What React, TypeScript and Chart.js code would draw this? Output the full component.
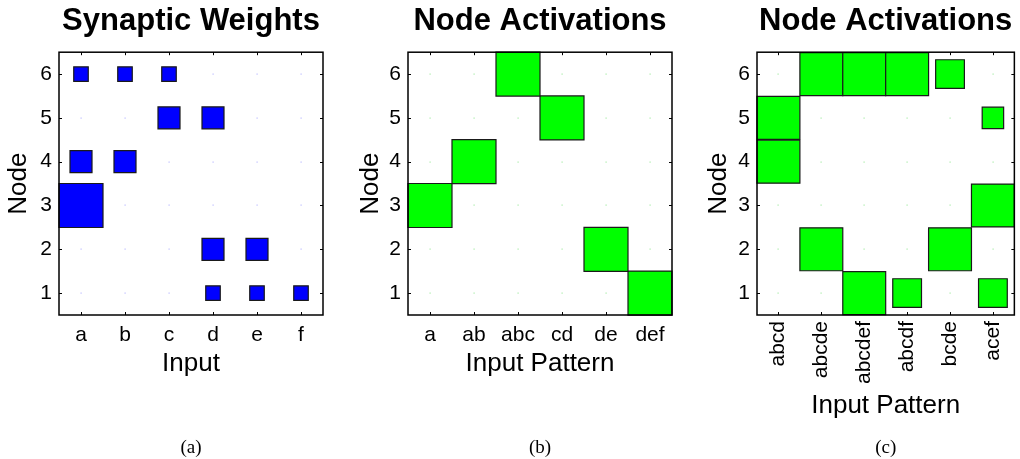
import React, { useEffect, useRef } from 'react';
import { Chart, registerables } from 'chart.js';

Chart.register(...registerables);

// ---------- data ----------
const nodeLabels = ['1', '2', '3', '4', '5', '6'];
const inputLabels = ['a', 'b', 'c', 'd', 'e', 'f'];
const patternLabelsB = ['a', 'ab', 'abc', 'cd', 'de', 'def'];
const patternLabelsC = ['abcd', 'abcde', 'abcdef', 'abcdf', 'bcde', 'acef'];

// rows: node 1..6, columns: inputs a..f
const synapticWeights: number[][] = [
  [0, 0, 0, 0.33, 0.33, 0.33],
  [0, 0, 0, 0.5, 0.5, 0],
  [1, 0, 0, 0, 0, 0],
  [0.5, 0.5, 0, 0, 0, 0],
  [0, 0, 0.5, 0.5, 0, 0],
  [0.33, 0.33, 0.33, 0, 0, 0],
];

// rows: node 1..6, columns: patterns a, ab, abc, cd, de, def
const activationsB: number[][] = [
  [0, 0, 0, 0, 0, 1],
  [0, 0, 0, 0, 1, 0],
  [1, 0, 0, 0, 0, 0],
  [0, 1, 0, 0, 0, 0],
  [0, 0, 0, 1, 0, 0],
  [0, 0, 1, 0, 0, 0],
];

// rows: node 1..6, columns: patterns abcd, abcde, abcdef, abcdf, bcde, acef
const activationsC: number[][] = [
  [0, 0, 1, 0.67, 0, 0.67],
  [0, 1, 0, 0, 1, 0],
  [0, 0, 0, 0, 0, 1],
  [1, 0, 0, 0, 0, 0],
  [1, 0, 0, 0, 0, 0.5],
  [0, 1, 1, 1, 0.67, 0],
];

const SANS = '"Liberation Sans", Arial, Helvetica, sans-serif';
const SERIF = '"Liberation Serif", "Times New Roman", serif';

Chart.defaults.font.family = SANS;
Chart.defaults.color = '#000';

type PanelCfg = {
  title: string;
  xTitle: string;
  xLabels: string[];
  matrix: number[][];
  fill: string;
  dot: string;
  caption: string;
  left: number;
  width: number;
  yAxisW: number;
  padR: number;
  yTitlePad: number;
  xTitlePadB: number;
  xTickPad: number;
  rotate: number;
};

const panels: PanelCfg[] = [
  {
    title: 'Synaptic Weights', xTitle: 'Input', xLabels: inputLabels, matrix: synapticWeights,
    fill: '#0000ff', dot: 'rgba(60,60,255,0.35)', caption: '(a)',
    left: 0, width: 340, yAxisW: 59, padR: 17, yTitlePad: 3.4, xTitlePadB: 56.6, xTickPad: 8, rotate: 0,
  },
  {
    title: 'Node Activations', xTitle: 'Input Pattern', xLabels: patternLabelsB, matrix: activationsB,
    fill: '#00ff00', dot: 'rgba(0,200,0,0.35)', caption: '(b)',
    left: 340, width: 340, yAxisW: 68, padR: 8, yTitlePad: 15.4, xTitlePadB: 56.6, xTickPad: 8, rotate: 0,
  },
  {
    title: 'Node Activations', xTitle: 'Input Pattern', xLabels: patternLabelsC, matrix: activationsC,
    fill: '#00ff00', dot: 'rgba(0,200,0,0.35)', caption: '(c)',
    left: 680, width: 345, yAxisW: 77, padR: 4, yTitlePad: 23.4, xTitlePadB: 14.6, xTickPad: 6, rotate: 90,
  },
];

function toPoints(matrix: number[][]) {
  const pts: { x: number; y: number; s: number }[] = [];
  matrix.forEach((row, r) =>
    row.forEach((v, c) => {
      if (v > 0) pts.push({ x: c + 1, y: r + 1, s: v });
    })
  );
  return pts;
}

const axesPlugin = {
  id: 'hintonAxes',
  beforeDatasetsDraw(chart: any, _args: any, opts: any) {
    const { ctx, chartArea, scales } = chart;
    const xs = scales.x, ys = scales.y;
    ctx.save();
    // grid dots at every tick intersection
    ctx.fillStyle = opts.dot;
    xs.ticks.forEach((tx: any) => {
      ys.ticks.forEach((ty: any) => {
        const px = xs.getPixelForValue(tx.value);
        const py = ys.getPixelForValue(ty.value);
        ctx.fillRect(Math.round(px) - 0.5, Math.round(py) - 0.5, 1.2, 1.2);
      });
    });
    // inward tick marks on all four sides
    ctx.strokeStyle = '#000';
    ctx.lineWidth = 1;
    const L = 3;
    ctx.beginPath();
    xs.ticks.forEach((t: any) => {
      const px = Math.round(xs.getPixelForValue(t.value)) + 0.5;
      ctx.moveTo(px, chartArea.bottom);
      ctx.lineTo(px, chartArea.bottom - L);
      ctx.moveTo(px, chartArea.top);
      ctx.lineTo(px, chartArea.top + L);
    });
    ys.ticks.forEach((t: any) => {
      const py = Math.round(ys.getPixelForValue(t.value)) + 0.5;
      ctx.moveTo(chartArea.left, py);
      ctx.lineTo(chartArea.left + L, py);
      ctx.moveTo(chartArea.right, py);
      ctx.lineTo(chartArea.right - L, py);
    });
    ctx.stroke();
    ctx.restore();
  },
  afterDatasetsDraw(chart: any) {
    const { ctx, chartArea } = chart;
    ctx.save();
    ctx.strokeStyle = '#000';
    ctx.lineWidth = 1.5;
    ctx.strokeRect(chartArea.left, chartArea.top, chartArea.right - chartArea.left, chartArea.bottom - chartArea.top);
    ctx.restore();
  },
};

function Panel({ cfg }: { cfg: PanelCfg }) {
  const ref = useRef<HTMLCanvasElement>(null);
  useEffect(() => {
    if (!ref.current) return;
    const halfSideRadius = (c: any) => {
      const xs = c.chart.scales.x;
      const unit = Math.abs(xs.getPixelForValue(1) - xs.getPixelForValue(0));
      const s = c.raw ? c.raw.s : 0;
      return (s * unit) / 2 / Math.SQRT1_2;
    };
    const chart = new Chart(ref.current, {
      type: 'scatter',
      data: {
        datasets: [
          {
            data: toPoints(cfg.matrix) as any,
            pointStyle: 'rect',
            backgroundColor: cfg.fill,
            borderColor: '#1a1a1a',
            borderWidth: 1.2,
            pointRadius: halfSideRadius as any,
            pointHoverRadius: halfSideRadius as any,
            clip: false as any,
          },
        ],
      },
      options: {
        animation: false,
        responsive: false,
        events: [],
        layout: { padding: { left: 0, right: cfg.padR, top: 0, bottom: 0 } },
        scales: {
          x: {
            type: 'linear',
            min: 0.5,
            max: 6.5,
            afterBuildTicks: (s: any) => {
              s.ticks = cfg.xLabels.map((_, i) => ({ value: i + 1 }));
            },
            afterFit: (s: any) => {
              s.height = 121.2;
            },
            ticks: {
              callback: (v: any) => cfg.xLabels[Math.round(Number(v)) - 1] ?? '',
              font: { size: 21 },
              color: '#000',
              padding: cfg.xTickPad,
              autoSkip: false,
              minRotation: cfg.rotate,
              maxRotation: cfg.rotate,
            },
            grid: { display: false, drawTicks: false },
            border: { display: false },
            title: {
              display: true,
              text: cfg.xTitle,
              font: { size: 26 },
              color: '#000',
              padding: { top: 0, bottom: cfg.xTitlePadB },
            },
          },
          y: {
            type: 'linear',
            min: 0.5,
            max: 6.5,
            afterBuildTicks: (s: any) => {
              s.ticks = nodeLabels.map((_, i) => ({ value: i + 1 }));
            },
            afterFit: (s: any) => {
              s.width = cfg.yAxisW;
            },
            ticks: {
              callback: (v: any) => nodeLabels[Math.round(Number(v)) - 1] ?? '',
              font: { size: 21 },
              color: '#000',
              padding: 7,
            },
            grid: { display: false, drawTicks: false },
            border: { display: false },
            title: {
              display: true,
              text: 'Node',
              font: { size: 26 },
              color: '#000',
              padding: { top: cfg.yTitlePad, bottom: 0 },
            },
          },
        },
        plugins: {
          legend: { display: false },
          tooltip: { enabled: false },
          title: {
            display: true,
            text: cfg.title,
            fullSize: false,
            color: '#000',
            font: { size: 31, weight: 'bold', family: SANS },
            padding: { top: 3, bottom: 12 },
          },
          subtitle: {
            display: true,
            text: cfg.caption,
            position: 'bottom',
            fullSize: false,
            color: '#000',
            font: { size: 19, weight: 'normal', family: SERIF },
            padding: { top: 0, bottom: 0 },
          },
          hintonAxes: { dot: cfg.dot },
        } as any,
      },
      plugins: [axesPlugin],
    });
    return () => chart.destroy();
  }, [cfg]);
  return (
    <div style={{ position: 'absolute', left: cfg.left, top: 0, width: cfg.width, height: 459 }}>
      <canvas ref={ref} width={cfg.width} height={459} style={{ display: 'block', width: cfg.width, height: 459 }} />
    </div>
  );
}

export default function App() {
  return (
    <div style={{ position: 'absolute', left: 0, top: 0, width: 1020, height: 459, overflow: 'hidden', background: '#fff' }}>
      {panels.map((p, i) => (
        <Panel key={i} cfg={p} />
      ))}
    </div>
  );
}
